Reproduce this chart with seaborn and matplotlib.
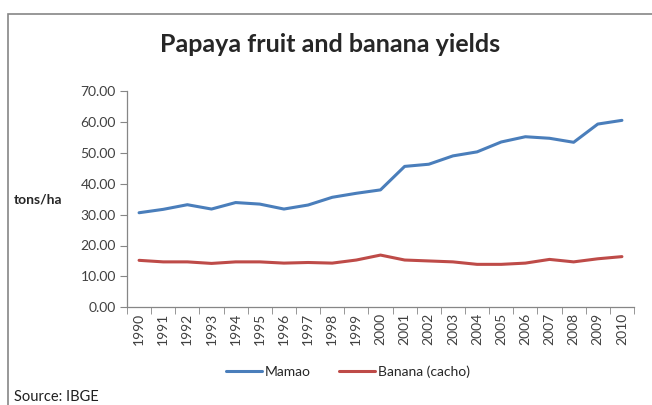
import seaborn as sns
import matplotlib.pyplot as plt
import pandas as pd
from matplotlib.patches import Rectangle
from matplotlib.ticker import MultipleLocator, FixedLocator

years = [str(y) for y in range(1990, 2011)]
mamao = [30.6, 31.7, 33.2, 31.8, 33.9, 33.4, 31.8, 33.1, 35.6, 36.9, 38.0,
         45.6, 46.3, 49.0, 50.3, 53.5, 55.2, 54.7, 53.4, 59.3, 60.5]
banana = [15.2, 14.7, 14.7, 14.2, 14.7, 14.7, 14.3, 14.5, 14.3, 15.3, 16.9,
          15.3, 15.0, 14.7, 13.9, 13.9, 14.3, 15.5, 14.7, 15.7, 16.4]
series_names = ["Mamao", "Banana (cacho)"]

df = pd.DataFrame({
    "pos": list(range(len(years))) * 2,
    "value": mamao + banana,
    "series": [series_names[0]] * len(years) + [series_names[1]] * len(years),
})

sns.set_style("white")
plt.rcParams['font.family'] = ['Lato', 'DejaVu Sans']

fig = plt.figure(figsize=(6.52, 4.05), dpi=100)
ax = fig.add_axes([127 / 652, 1 - 307.3 / 405, (634 - 127) / 652, (307.3 - 91) / 405])

ax = sns.lineplot(data=df, x="pos", y="value", hue="series",
                  palette=["#4A7EBB", "#BE4B48"], linewidth=2.2, ax=ax, legend=False)

axis_grey = "#868686"
ax.set_xlim(-0.5, len(years) - 0.5)
ax.set_ylim(0, 70)
ax.yaxis.set_major_locator(MultipleLocator(10))
ax.set_yticklabels([f"{v:.2f}" for v in ax.get_yticks()], fontsize=10, color="#404040")
ax.set_xticks(range(len(years)))
ax.set_xticklabels(years, rotation=90, fontsize=10, color="#404040")
ax.xaxis.set_minor_locator(FixedLocator([i - 0.5 for i in range(len(years) + 1)]))
ax.tick_params(axis="x", which="major", length=0, pad=4)
ax.tick_params(axis="x", which="minor", length=5, color=axis_grey, direction="out", bottom=True)
ax.tick_params(axis="y", length=5, color=axis_grey, direction="out", left=True, pad=3)
for side in ["top", "right"]:
    ax.spines[side].set_visible(False)
for side in ["left", "bottom"]:
    ax.spines[side].set_color(axis_grey)
    ax.spines[side].set_linewidth(0.9)
ax.set_xlabel("")
ax.set_ylabel("")

fig.text(330 / 652, 1 - 44 / 405, "Papaya fruit and banana yields",
         ha="center", va="center", fontsize=18, fontweight="bold")
fig.text(14 / 652, 1 - 199 / 405, "tons/ha", ha="left", va="center",
         fontsize=10, fontweight="bold")
fig.text(14 / 652, 1 - 397 / 405, "Source: IBGE", ha="left", va="center",
         fontsize=10.5, color="#202020")

handles = [plt.Line2D([], [], color=c, lw=2.2) for c in ["#4A7EBB", "#BE4B48"]]
fig.legend(handles, series_names, loc="center", bbox_to_anchor=(348 / 652, 1 - 372 / 405),
           ncol=2, frameon=False, fontsize=10, handlelength=2.6, handletextpad=0.2,
           columnspacing=2.0)

fig.add_artist(Rectangle((8 / 652, -0.1), 1.2, 1 - 14 / 405 + 0.1,
                         transform=fig.transFigure, fill=False,
                         edgecolor=axis_grey, linewidth=1.2))

fig.savefig("out.png", dpi=100)
